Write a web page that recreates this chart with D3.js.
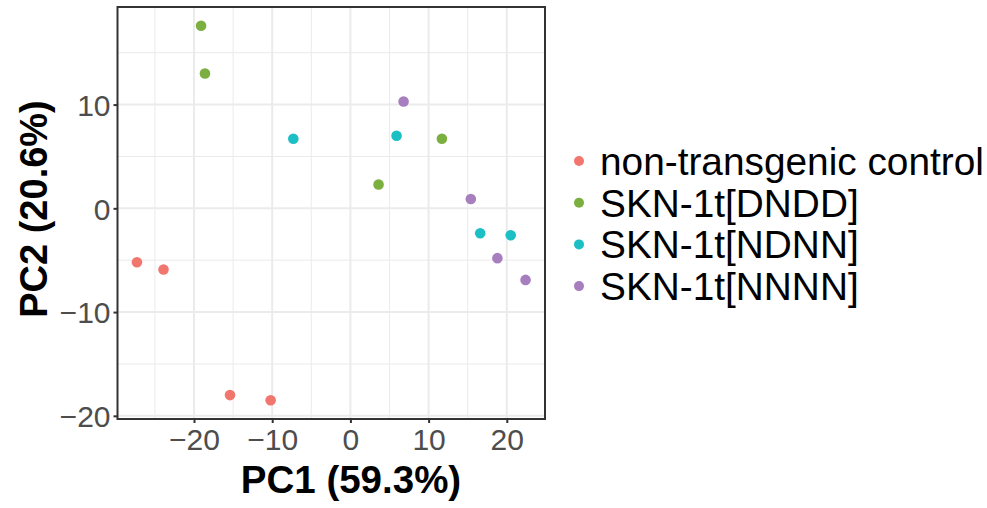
<!DOCTYPE html>
<html>
<head>
<meta charset="utf-8">
<script src="https://cdn.jsdelivr.net/npm/d3@7"></script>
<style>
  html, body { margin: 0; padding: 0; background: #fff; }
  svg { display: block; font-family: "Liberation Sans", Arial, Helvetica, sans-serif; }
</style>
</head>
<body>
<svg id="chart" width="987" height="508"></svg>
<script>
// Sample groups, in legend order
const groups = ["non-transgenic control", "SKN-1t[DNDD]", "SKN-1t[NDNN]", "SKN-1t[NNNN]"];
const groupColors = ["#F1766E", "#7BAF3F", "#1BBFC4", "#A77FBF"];

// PCA scores per sample
const pc1 = [-27.3, -23.9, -15.4, -10.2,
             -19.1, -18.6, 3.6, 11.7,
             -7.3, 5.9, 16.6, 20.5,
             6.8, 15.4, 18.8, 22.4];
const pc2 = [-5.2, -5.9, -18.0, -18.5,
             17.6, 13.0, 2.3, 6.7,
             6.7, 7.0, -2.4, -2.6,
             10.3, 0.9, -4.8, -6.9];
const sampleGroup = [0, 0, 0, 0,
                     1, 1, 1, 1,
                     2, 2, 2, 2,
                     3, 3, 3, 3];

// Axis ticks and labels
const xTicks = [-20, -10, 0, 10, 20];
const yTicks = [-20, -10, 0, 10];
const xMinor = [-25, -15, -5, 5, 15];
const yMinor = [-15, -5, 5, 15];
const xTitle = "PC1 (59.3%)";
const yTitle = "PC2 (20.6%)";

const svg = d3.select("#chart");
const panel = { left: 117.5, right: 545, top: 7, bottom: 419 };

// 5% padding around the data range on both axes
function padded(vals) {
  const [lo, hi] = d3.extent(vals);
  const pad = (hi - lo) * 0.05;
  return [lo - pad, hi + pad];
}
const x = d3.scaleLinear().domain(padded(pc1)).range([panel.left, panel.right]);
const y = d3.scaleLinear().domain(padded(pc2)).range([panel.bottom, panel.top]);

const g = svg.append("g");

// Grid: minor lines first, then major
const grid = g.append("g");
grid.selectAll(".xminor").data(xMinor).join("line")
  .attr("x1", d => x(d)).attr("x2", d => x(d))
  .attr("y1", panel.top).attr("y2", panel.bottom)
  .attr("stroke", "#EBEBEB").attr("stroke-width", 1);
grid.selectAll(".yminor").data(yMinor).join("line")
  .attr("y1", d => y(d)).attr("y2", d => y(d))
  .attr("x1", panel.left).attr("x2", panel.right)
  .attr("stroke", "#EBEBEB").attr("stroke-width", 1);
grid.selectAll(".xmajor").data(xTicks).join("line")
  .attr("x1", d => x(d)).attr("x2", d => x(d))
  .attr("y1", panel.top).attr("y2", panel.bottom)
  .attr("stroke", "#EBEBEB").attr("stroke-width", 2);
grid.selectAll(".ymajor").data(yTicks).join("line")
  .attr("y1", d => y(d)).attr("y2", d => y(d))
  .attr("x1", panel.left).attr("x2", panel.right)
  .attr("stroke", "#EBEBEB").attr("stroke-width", 2);

// Points
g.append("g").selectAll("circle").data(pc1.map((v, i) => i)).join("circle")
  .attr("cx", i => x(pc1[i]))
  .attr("cy", i => y(pc2[i]))
  .attr("r", 5.3)
  .attr("fill", i => groupColors[sampleGroup[i]]);

// Panel border
g.append("rect")
  .attr("x", panel.left).attr("y", panel.top)
  .attr("width", panel.right - panel.left).attr("height", panel.bottom - panel.top)
  .attr("fill", "none").attr("stroke", "#333333").attr("stroke-width", 2);

// Axes
const xAxis = d3.axisBottom(x).tickValues(xTicks).tickSize(4).tickPadding(6)
  .tickFormat(d => d3.format("d")(d).replace("-", "\u2212"));
const yAxis = d3.axisLeft(y).tickValues(yTicks).tickSize(4).tickPadding(3)
  .tickFormat(d => d3.format("d")(d).replace("-", "\u2212"));

const gx = svg.append("g").attr("transform", `translate(0,${panel.bottom})`).call(xAxis);
const gy = svg.append("g").attr("transform", `translate(${panel.left},0)`).call(yAxis);
[gx, gy].forEach(a => {
  a.select(".domain").remove();
  a.selectAll(".tick line").attr("stroke", "#333333").attr("stroke-width", 2);
  a.selectAll(".tick text").attr("fill", "#4D4D4D")
    .style("font-size", "30px").style("font-family", "'Liberation Sans', Arial, sans-serif");
});
gy.selectAll(".tick text").attr("dy", "0.36em");
gx.selectAll(".tick text").attr("dy", "0.71em");

// Axis titles
svg.append("text")
  .attr("x", 351).attr("y", 493)
  .attr("text-anchor", "middle")
  .style("font-size", "38.5px").style("font-weight", "bold")
  .attr("fill", "#000").text(xTitle);
svg.append("text")
  .attr("transform", "translate(46.5,209) rotate(-90)")
  .attr("text-anchor", "middle")
  .style("font-size", "38px").style("font-weight", "bold")
  .attr("fill", "#000").text(yTitle);

// Legend
const legend = svg.append("g").attr("transform", "translate(579,161)");
const rows = legend.selectAll("g").data(groups).join("g")
  .attr("transform", (d, i) => `translate(0,${i * 41.7})`);
rows.append("circle").attr("r", 5).attr("fill", (d, i) => groupColors[i]);
rows.append("text").attr("x", 21).attr("y", 13.8)
  .style("font-size", "38.8px").attr("fill", "#000").text(d => d);
</script>
</body>
</html>
